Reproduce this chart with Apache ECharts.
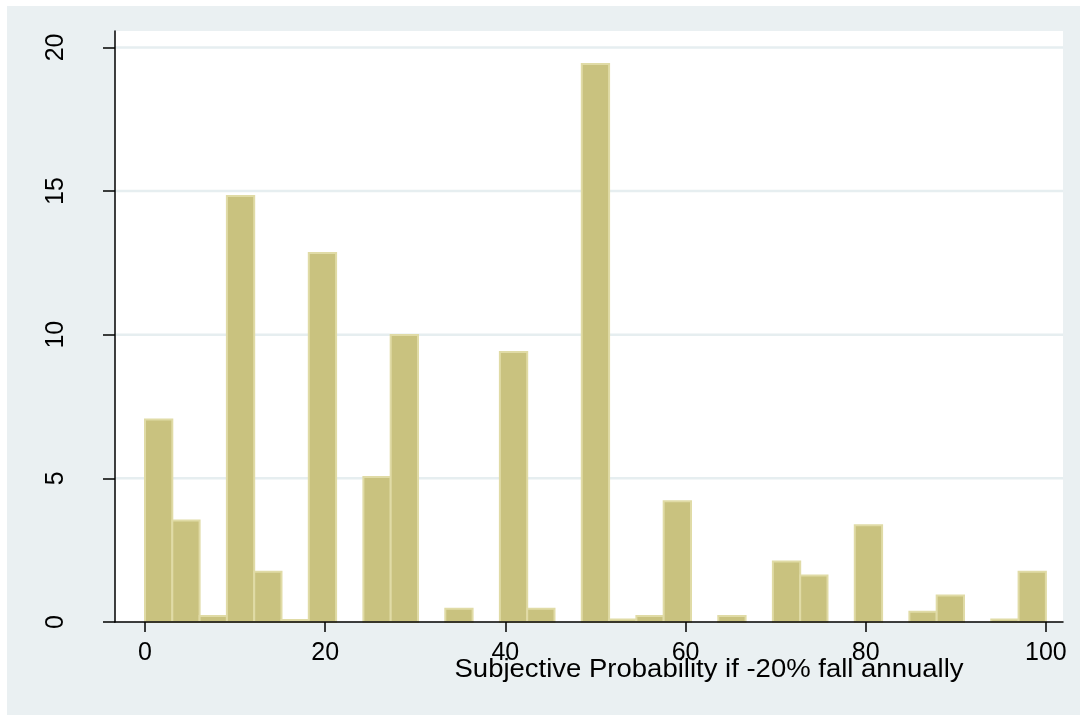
<!DOCTYPE html>
<html>
<head>
<meta charset="utf-8">
<script src="https://cdn.jsdelivr.net/npm/echarts@6/dist/echarts.min.js"></script>
<style>
html,body{margin:0;padding:0;background:#fff;}
#chart{width:1080px;height:715px;}
</style>
</head>
<body>
<div id="chart"></div>
<script>
// Histogram: 33 bins of equal width spanning 0..100
const binCount = 33;
const binLow = 0;
const binHigh = 100;
const percent = [7.05, 3.53, 0.21, 14.83, 1.75, 0.07, 12.84, 0, 5.05, 9.99, 0, 0.46, 0, 9.40, 0.46, 0,
  19.42, 0.09, 0.21, 4.20, 0, 0.21, 0, 2.11, 1.62, 0, 3.37, 0, 0.36, 0.92, 0, 0.09, 1.75];
const xTicks = [0, 20, 40, 60, 80, 100];
const yTicks = [0, 5, 10, 15, 20];
const xTitle = 'Subjective Probability if -20% fall annually';

const binW = (binHigh - binLow) / binCount;
const barData = percent.map((v, i) => [binLow + i * binW, binLow + (i + 1) * binW, v]);
const gridData = yTicks.filter(v => v > 0).map(v => [v]);

const font = 'Liberation Sans, Arial, Helvetica, sans-serif';
const chart = echarts.init(document.getElementById('chart'));
chart.setOption({
  backgroundColor: '#ffffff',
  animation: false,
  graphic: [
    {type: 'rect', left: 7, top: 6, shape: {width: 1073, height: 709}, style: {fill: '#eaf0f2'}, z: -100, silent: true},
    {type: 'text', x: 709, y: 670, scaleX: 1.1, style: {text: xTitle, font: '25px ' + font, fill: '#000', textAlign: 'center', textVerticalAlign: 'middle'}, z: 100}
  ],
  grid: {left: 115, right: 17, top: 31, bottom: 93, show: true, backgroundColor: '#ffffff', borderWidth: 0},
  xAxis: {
    type: 'value', min: -3.33, max: 101.9, z: 5,
    axisLine: {show: true, onZero: false, lineStyle: {color: '#000', width: 1.5}},
    axisTick: {show: true, length: 10, customValues: xTicks, lineStyle: {color: '#000', width: 1.5}},
    axisLabel: {customValues: xTicks, fontFamily: font, fontSize: 25, color: '#000', margin: 19},
    splitLine: {show: false}
  },
  yAxis: {
    type: 'value', min: 0, max: 20.57, z: 5,
    axisLine: {show: true, onZero: false, lineStyle: {color: '#000', width: 1.5}},
    axisTick: {show: true, length: 12, customValues: yTicks, lineStyle: {color: '#000', width: 1.5}},
    axisLabel: {customValues: yTicks, rotate: 90, fontFamily: font, fontSize: 25, color: '#000', margin: 46},
    splitLine: {show: false}
  },
  series: [
    {
      type: 'custom', z: 1, silent: true,
      data: gridData,
      encode: {y: 0},
      renderItem: function (params, api) {
        const cs = params.coordSys;
        const p = api.coord([0, api.value(0)]);
        return {
          type: 'line',
          shape: {x1: cs.x, y1: p[1], x2: cs.x + cs.width, y2: p[1]},
          style: {stroke: '#e6eef0', lineWidth: 2.5}
        };
      }
    },
    {
      type: 'custom', z: 2,
      data: barData,
      encode: {x: [0, 1], y: 2},
      renderItem: function (params, api) {
        const h = api.value(2);
        if (!h) return null;
        const p0 = api.coord([api.value(0), h]);
        const p1 = api.coord([api.value(1), 0]);
        return {
          type: 'rect',
          shape: {x: p0[0], y: p0[1], width: p1[0] - p0[0], height: p1[1] - p0[1]},
          style: {fill: '#c9c27f', stroke: '#e0dba6', lineWidth: 2}
        };
      }
    }
  ]
});
</script>
</body>
</html>
